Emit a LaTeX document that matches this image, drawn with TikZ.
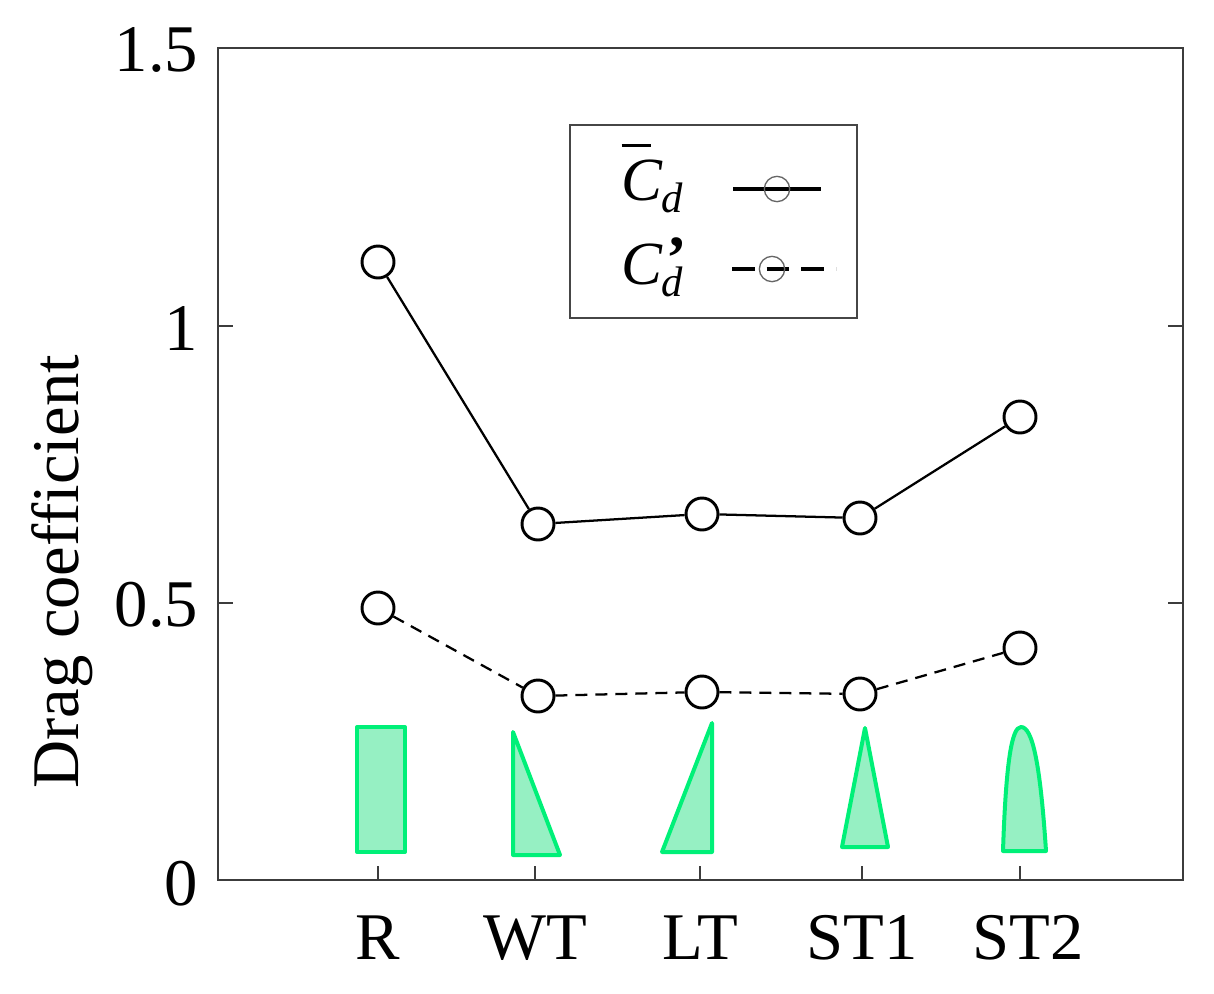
\documentclass[tikz,border=0pt]{standalone}
\usepackage{fontspec}
\setmainfont{Liberation Serif}
\begin{document}
\begin{tikzpicture}[x=0.75pt,y=-0.75pt,
  lab/.style={font=\fontsize{50}{60}\selectfont},
  mk/.style={circle,draw,line width=2.2pt,minimum size=24pt,inner sep=0pt},
  shp/.style={draw={rgb,255:red,0;green,240;blue,120},line width=3pt,line join=round,fill={rgb,255:red,150;green,240;blue,195}},
  ax/.style={line width=1.4pt,draw={rgb,255:red,60;green,60;blue,60}}]
\useasboundingbox (0,0) rectangle (1214,993);
\draw[ax] (218,48) rectangle (1183,880);
\foreach \y in {326,603}{\draw[ax] (218,\y)--(233,\y); \draw[ax] (1183,\y)--(1168,\y);}
\foreach \x in {378,535,700,862,1020}{\draw[ax] (\x,880)--(\x,866);}
\node[lab,anchor=east] (t0) at (203,884) {0};
\node[lab,anchor=east] (t05) at (203,605) {0.5};
\node[lab,anchor=east] (t1) at (203,328) {1};
\node[lab,anchor=east] (t15) at (203,50) {1.5};
\node[lab,rotate=90] (yl) at (62,572) {Drag coefficient};
\node[lab] (cR) at (378,938) {R};
\node[lab] (cWT) at (535,938) {WT};
\node[lab] (cLT) at (700,938) {LT};
\node[lab] (cS1) at (862,938) {ST1};
\node[lab] (cS2) at (1028,938) {ST2};
% shapes
\draw[shp] (357,727) rectangle (405,852);
\draw[shp] (513,732) -- (513,855) -- (560,855) -- cycle;
\draw[shp] (712,723) -- (712,852) -- (662,852) -- cycle;
\draw[shp] (865,728) -- (888,847) -- (842,847) -- cycle;
\draw[shp] (1003,851) .. controls (1006,760) and (1012,727) .. (1021,727) .. controls (1032,727) and (1040,760) .. (1046,851) -- cycle;
% data
\node[mk] (a1) at (378,262) {};
\node[mk] (a2) at (538,524) {};
\node[mk] (a3) at (702,514) {};
\node[mk] (a4) at (860,518) {};
\node[mk] (a5) at (1020,417) {};
\node[mk] (b1) at (378,608) {};
\node[mk] (b2) at (538,696) {};
\node[mk] (b3) at (702,692) {};
\node[mk] (b4) at (860,694) {};
\node[mk] (b5) at (1020,648) {};
\draw[line width=1.7pt] (a1)--(a2)--(a3)--(a4)--(a5);
\draw[line width=1.7pt,dash pattern=on 9pt off 6pt] (b1)--(b2)--(b3)--(b4)--(b5);
% legend
\draw[line width=1.3pt,draw={rgb,255:red,70;green,70;blue,70}] (570,125) rectangle (857,318);
\node[font=\fontsize{46}{50}\selectfont,anchor=base west,inner sep=1pt] (l1) at (620,200) {\rlap{\raisebox{40pt}{\rule{22pt}{2.2pt}}}{\itshape C}\kern-1pt\raisebox{-9pt}{\fontsize{32}{34}\selectfont\itshape d}};
\node[font=\fontsize{46}{50}\selectfont,anchor=base west,inner sep=1pt] (l2) at (620,284) {{\itshape C}\kern-1pt\raisebox{-9pt}{\fontsize{32}{34}\selectfont\itshape d}\kern-12pt\raisebox{4pt}{\bfseries ’}};
\coordinate (s1) at (733,189); \coordinate (s2) at (821,189);
\draw[line width=2.5pt] (s1)--(s2);
\node[circle,draw=gray!80!black,line width=1pt,minimum size=19pt,inner sep=0pt] (lc1) at (777,189) {};
\coordinate (d1) at (732,269); \coordinate (d2) at (836,269);
\draw[line width=2.5pt,dash pattern=on 17pt off 9pt] (d1)--(d2);
\node[circle,draw=gray!80!black,line width=1pt,minimum size=19pt,inner sep=0pt] (lc2) at (772,269) {};
\end{tikzpicture}
\end{document}
